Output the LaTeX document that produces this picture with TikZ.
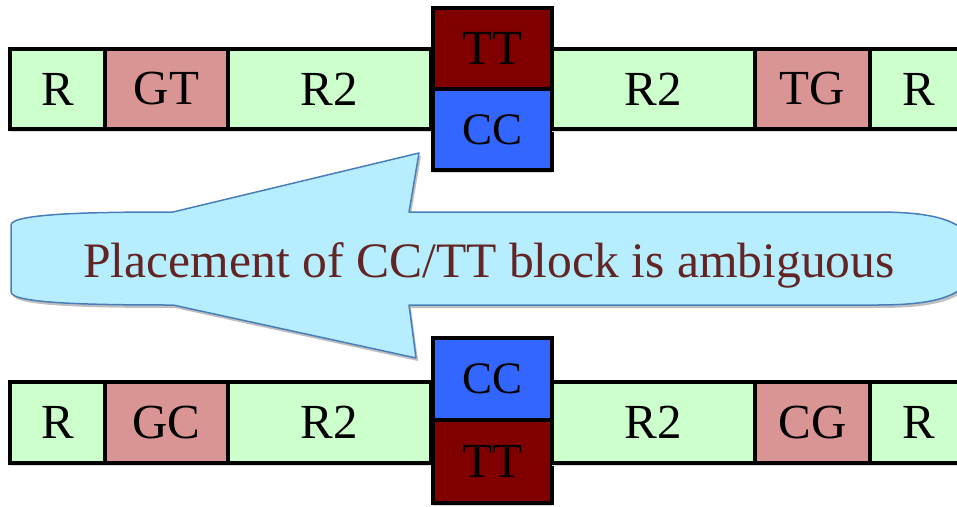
\documentclass[tikz,border=0pt]{standalone}
\usepackage{fontspec}
\setmainfont{Liberation Serif}
\usetikzlibrary{shadows}
\definecolor{boxgreen}{HTML}{CCFFCC}
\definecolor{boxpink}{HTML}{D99594}
\definecolor{boxred}{HTML}{800000}
\definecolor{boxblue}{HTML}{3366FF}
\definecolor{callfill}{HTML}{B7EEFF}
\definecolor{calldraw}{HTML}{4A7EBB}
\definecolor{calltext}{HTML}{632523}
\tikzset{
  seg/.style={draw=black, line width=3.5pt, inner sep=0pt, outer sep=0pt,
    font=\fontsize{49}{49}\selectfont, text=black,
    drop shadow={shadow xshift=0pt, shadow yshift=-3pt, fill=black!15, opacity=1}},
  green/.style={seg, fill=boxgreen},
  pink/.style={seg, fill=boxpink},
  redb/.style={seg, fill=boxred},
  blueb/.style={seg, fill=boxblue},
}
\begin{document}
\begin{tikzpicture}[x=1pt,y=-1pt]
\useasboundingbox (0,0) rectangle (957,506);
% top row
\node[green, minimum width=95pt, minimum height=80pt] (t1) at (57.5,89) {R};
\node[pink, minimum width=123pt, minimum height=80pt] (t2) at (166.5,89) {GT};
\node[green, minimum width=203pt, minimum height=80pt] (t3) at (329.5,89) {R2};
\node[redb, minimum width=119pt, minimum height=81pt] (t4) at (492.5,48.5) {TT};
\node[blueb, minimum width=119pt, minimum height=81pt, font=\fontsize{45}{45}\selectfont] (t5) at (492.5,129.5) {CC};
\node[green, minimum width=203pt, minimum height=80pt] (t6) at (653.5,89) {R2};
\node[pink, minimum width=115pt, minimum height=80pt] (t7) at (812.5,89) {TG};
\node[green, minimum width=98pt, minimum height=80pt] (t8) at (919,89) {R};
% bottom row
\node[green, minimum width=95pt, minimum height=81pt] (b1) at (57.5,422.5) {R};
\node[pink, minimum width=123pt, minimum height=81pt] (b2) at (166.5,422.5) {GC};
\node[green, minimum width=203pt, minimum height=81pt] (b3) at (329.5,422.5) {R2};
\node[blueb, minimum width=119pt, minimum height=82pt, font=\fontsize{45}{45}\selectfont] (b4) at (492.5,379) {CC};
\node[redb, minimum width=119pt, minimum height=83pt] (b5) at (492.5,461.5) {TT};
\node[green, minimum width=203pt, minimum height=81pt] (b6) at (653.5,422.5) {R2};
\node[pink, minimum width=115pt, minimum height=81pt] (b7) at (812.5,422.5) {CG};
\node[green, minimum width=98pt, minimum height=81pt] (b8) at (919,422.5) {R};
% callout shadow
\fill[black!25, shift={(2,3)}]
  (11,225) .. controls (11,213) and (100,212) .. (173,212) -- (419,153) -- (409,212) -- (877,212)
  .. controls (940,212) and (975,222) .. (975,258) .. controls (975,295) and (940,305) .. (877,305)
  -- (409,305) -- (416,358) -- (173,305) .. controls (100,305) and (11,304) .. (11,292) -- cycle;
% callout
\draw[calldraw, fill=callfill, line width=1.5pt, line join=round]
  (11,225) .. controls (11,213) and (100,212) .. (173,212) -- (419,153) -- (409,212) -- (877,212)
  .. controls (940,212) and (975,222) .. (975,258) .. controls (975,295) and (940,305) .. (877,305)
  -- (409,305) -- (416,358) -- (173,305) .. controls (100,305) and (11,304) .. (11,292) -- cycle;
\node[anchor=base, text=calltext, font=\fontsize{49.6}{49.6}\selectfont, inner sep=0pt] (msg) at (489,277) {Placement of CC/TT block is ambiguous};
\end{tikzpicture}
\end{document}
